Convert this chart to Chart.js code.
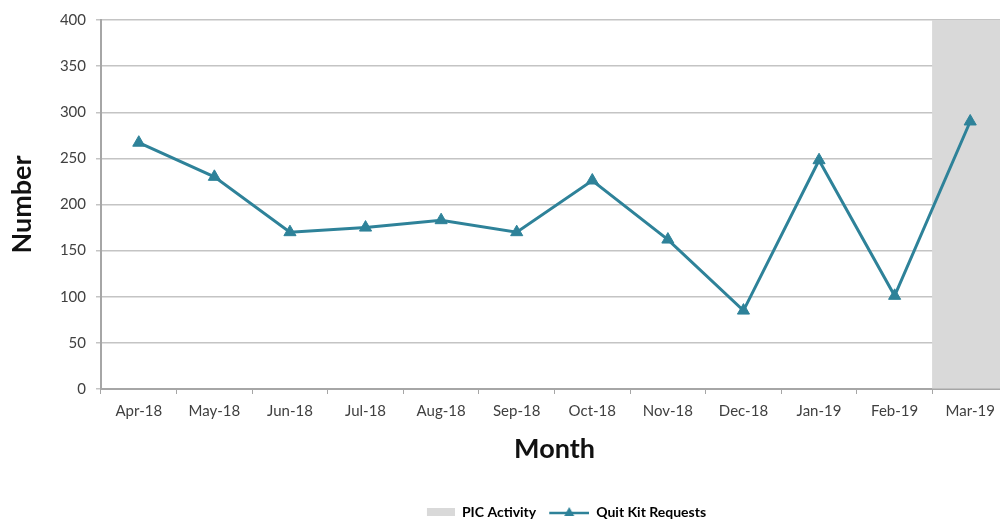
<!DOCTYPE html>
<html>
<head>
<meta charset="utf-8">
<script src="https://cdn.jsdelivr.net/npm/chart.js@4"></script>
<style>
  html, body { margin: 0; padding: 0; background: #fff; overflow: hidden; }
  #wrap { width: 1016px; height: 520px; position: relative; }
</style>
</head>
<body>
<div id="wrap"><canvas id="quitKitChart"></canvas></div>
<script>
"use strict";

// Monthly data
const months = ["Apr-18", "May-18", "Jun-18", "Jul-18", "Aug-18", "Sep-18",
                "Oct-18", "Nov-18", "Dec-18", "Jan-19", "Feb-19", "Mar-19"];
const quitKitRequests = [267, 230, 170, 175, 183, 170, 226, 162, 85, 248, 101, 290];
// PIC activity month is shaded full height
const picActivity = [null, null, null, null, null, null, null, null, null, null, null, 400];
const yTicks = [0, 50, 100, 150, 200, 250, 300, 350, 400];

const lineColor = "#2e8299";
const bandColor = "#d9d9d9";
const fontFamily = "Lato, 'Open Sans', sans-serif";
const iconWidth = 52;

// Legend icons: a shaded box and a line with a triangle marker,
// right-aligned in the icon so there is a gap after the previous label
function makeBoxIcon() {
    const c = document.createElement("canvas");
    c.width = iconWidth; c.height = 8;
    const ctx = c.getContext("2d");
    ctx.fillStyle = bandColor;
    ctx.fillRect(iconWidth - 28, 0, 28, 8);
    return c;
}
function makeLineIcon() {
    const c = document.createElement("canvas");
    c.width = iconWidth; c.height = 12;
    const ctx = c.getContext("2d");
    const x0 = iconWidth - 40, mid = iconWidth - 20;
    ctx.strokeStyle = lineColor;
    ctx.lineWidth = 2.5;
    ctx.beginPath(); ctx.moveTo(x0, 7); ctx.lineTo(iconWidth, 7); ctx.stroke();
    ctx.fillStyle = lineColor;
    ctx.beginPath(); ctx.moveTo(mid, 1); ctx.lineTo(mid + 5, 10); ctx.lineTo(mid - 5, 10); ctx.closePath(); ctx.fill();
    return c;
}
const boxIcon = makeBoxIcon();
const lineIcon = makeLineIcon();

const ctx = document.getElementById("quitKitChart").getContext("2d");
new Chart(ctx, {
    data: {
        labels: months,
        datasets: [
            {
                type: "line",
                label: "Quit Kit Requests",
                data: quitKitRequests,
                borderColor: lineColor,
                backgroundColor: lineColor,
                borderWidth: 3,
                pointStyle: "triangle",
                pointRadius: 7,
                pointBorderWidth: 1,
                tension: 0,
                order: 0
            },
            {
                type: "bar",
                label: "PIC Activity",
                data: picActivity,
                backgroundColor: bandColor,
                borderWidth: 0,
                barPercentage: 1,
                categoryPercentage: 1,
                order: 1
            }
        ]
    },
    options: {
        responsive: true,
        maintainAspectRatio: false,
        animation: false,
        layout: { padding: { top: 20, right: 3, left: 0, bottom: -9 } },
        plugins: {
            tooltip: { enabled: false },
            legend: {
                position: "bottom",
                fullSize: false,
                labels: {
                    usePointStyle: true,
                    pointStyleWidth: iconWidth,
                    color: "#222",
                    padding: 1,
                    font: { family: fontFamily, size: 14, weight: "bold", lineHeight: 1 },
                    generateLabels: () => [
                        { text: "PIC Activity", pointStyle: boxIcon, fillStyle: bandColor, strokeStyle: bandColor, lineWidth: 0, datasetIndex: 1 },
                        { text: "Quit Kit Requests", pointStyle: lineIcon, fillStyle: lineColor, strokeStyle: lineColor, lineWidth: 0, datasetIndex: 0 }
                    ]
                }
            }
        },
        scales: {
            x: {
                offset: true,
                grid: { offset: true, drawOnChartArea: false, drawTicks: true, tickLength: 5, color: "#a6a6a6" },
                border: { color: "#a6a6a6", width: 2 },
                ticks: { color: "#404040", padding: 8, font: { family: fontFamily, size: 15 } },
                title: {
                    display: true, text: "Month", color: "#111",
                    padding: { top: 0, bottom: 39 },
                    font: { family: fontFamily, size: 27, weight: "bold" }
                },
                afterFit: (scale) => { scale.height = 115; }
            },
            y: {
                min: 0,
                max: 400,
                afterBuildTicks: (scale) => { scale.ticks = yTicks.map(v => ({ value: v })); },
                grid: { color: "#c4c4c4", lineWidth: 1.5, tickLength: 5 },
                border: { color: "#a6a6a6", width: 2 },
                ticks: { color: "#404040", padding: 10, font: { family: fontFamily, size: 15 } },
                title: {
                    display: true, text: "Number", color: "#111",
                    padding: { top: 6, bottom: 0 },
                    font: { family: fontFamily, size: 27, weight: "bold" }
                },
                afterFit: (scale) => { scale.width = 101; }
            }
        }
    }
});
</script>
</body>
</html>
